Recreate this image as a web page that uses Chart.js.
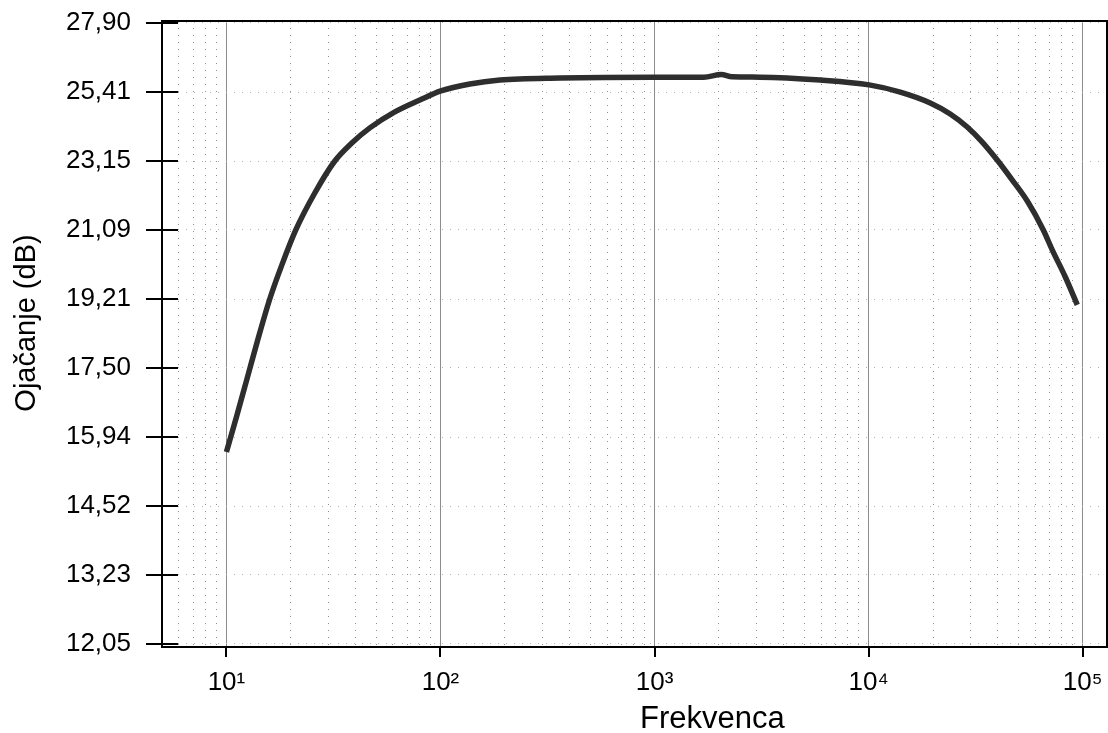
<!DOCTYPE html>
<html>
<head>
<meta charset="utf-8">
<script src="https://cdn.jsdelivr.net/npm/chart.js@4/dist/chart.umd.min.js"></script>
<style>
  html, body { margin: 0; padding: 0; background: #fff; }
  #wrap { width: 1108px; height: 733px; }
</style>
</head>
<body>
<div id="wrap"><canvas id="gainChart"></canvas></div>
<script>
// podaci ocitani sa slike
const freq = [10, 11.17, 12.44, 14.01, 15.94, 18.14, 21.09, 25.87, 32.09, 38.53, 46.77, 61.22, 80.12, 100.4, 137.2, 189.6, 361.6, 1000, 1700, 2050, 2300, 3113, 5939, 10065, 14060, 19410, 24070, 28900, 33980, 39900, 46930, 55140, 65520, 72100, 83030, 94400];
const gain = [15.62, 16.40, 17.22, 18.18, 19.21, 20.11, 21.09, 22.17, 23.15, 23.72, 24.21, 24.74, 25.14, 25.45, 25.69, 25.83, 25.90, 25.93, 25.93, 26.02, 25.94, 25.93, 25.83, 25.66, 25.41, 25.04, 24.67, 24.24, 23.75, 23.18, 22.56, 21.93, 21.09, 20.53, 19.79, 19.06];
const yTicks = [12.05, 13.23, 14.52, 15.94, 17.50, 19.21, 21.09, 23.15, 25.41, 27.90];
const xDecades = [10, 100, 1000, 10000, 100000];
const supers = { 1: '\u00B9', 2: '\u00B2', 3: '\u00B3', 4: '\u2074', 5: '\u2075' };
const xTitle = 'Frekvenca';
const yTitle = 'Ojačanje (dB)';

const FONT = "'Liberation Sans', Arial, sans-serif";

function isDecade(v) {
    return xDecades.some(d => Math.abs(d - v) < 1e-6);
}

// sve podjele na log osi (5..9, 10..90, ...)
function xAllTicks() {
    const t = [];
    for (let e = 0; e <= 5; e++) {
        for (let m = 1; m <= 9; m++) {
            const v = m * Math.pow(10, e);
            if (v >= 5 && v <= 130000) t.push(v);
        }
    }
    return t;
}

// okvir, crtice i naslovi osa
const frameAndTicks = {
    id: 'frameAndTicks',
    afterDraw(chart) {
        const { ctx, chartArea: a, scales } = chart;
        ctx.save();
        ctx.strokeStyle = '#000';
        ctx.lineWidth = 2;
        ctx.strokeRect(a.left, a.top, a.right - a.left, a.bottom - a.top);

        ctx.beginPath();
        yTicks.forEach(v => {
            const y = Math.round(scales.y.getPixelForValue(v));
            ctx.moveTo(a.left - 16, y);
            ctx.lineTo(a.left + 16, y);
        });
        xDecades.forEach(v => {
            const x = Math.round(scales.x.getPixelForValue(v));
            ctx.moveTo(x, a.bottom);
            ctx.lineTo(x, a.bottom + 10);
        });
        ctx.stroke();

        // naslovi
        ctx.fillStyle = '#000';
        ctx.font = '31px ' + FONT;
        ctx.textAlign = 'left';
        ctx.textBaseline = 'alphabetic';
        ctx.fillText(xTitle, 640, 728);

        ctx.translate(27, 323);
        ctx.rotate(-Math.PI / 2);
        ctx.font = '29px ' + FONT;
        ctx.textAlign = 'center';
        ctx.textBaseline = 'middle';
        ctx.fillText(yTitle, 0, 0);
        ctx.restore();
    }
};

const ctx = document.getElementById('gainChart').getContext('2d');

const gainChart = new Chart(ctx, {
    type: 'line',
    data: {
        datasets: [{
            data: freq.map((f, i) => ({ x: f, y: gain[i] })),
            borderColor: '#2e2e2e',
            borderWidth: 5.5,
            pointRadius: 0,
            cubicInterpolationMode: 'monotone',
            fill: false
        }]
    },
    options: {
        responsive: true,
        maintainAspectRatio: false,
        animation: false,
        layout: { padding: { top: 21, right: 1, left: 0, bottom: 0 } },
        plugins: {
            legend: { display: false },
            tooltip: { enabled: false }
        },
        scales: {
            x: {
                type: 'logarithmic',
                min: 5,
                max: 130000,
                afterBuildTicks: (scale) => {
                    scale.ticks = xAllTicks().map(v => ({ value: v }));
                },
                afterFit: (scale) => {
                    scale.height = 86;
                    scale.paddingLeft = 0;
                    scale.paddingRight = 0;
                },
                ticks: {
                    autoSkip: false,
                    maxRotation: 0,
                    padding: 20,
                    color: '#000',
                    font: { family: FONT, size: 26 },
                    callback: (v) => isDecade(v) ? '10' + supers[Math.round(Math.log10(v))] : ''
                },
                grid: {
                    drawTicks: false,
                    color: (c) => isDecade(c.tick.value) ? '#8c8c8c' : '#8f8f8f',
                    lineWidth: 1
                },
                border: {
                    display: false,
                    dash: (c) => (c.tick && isDecade(c.tick.value)) ? [] : [1, 6]
                }
            },
            y: {
                type: 'logarithmic',
                min: 12.0,
                max: 27.975,
                afterBuildTicks: (scale) => {
                    scale.ticks = yTicks.map(v => ({ value: v }));
                },
                afterFit: (scale) => {
                    scale.width = 162;
                    scale.paddingTop = 0;
                    scale.paddingBottom = 0;
                },
                ticks: {
                    autoSkip: false,
                    padding: 31,
                    color: '#000',
                    font: { family: FONT, size: 26 },
                    callback: (v) => Number(v).toFixed(2).replace('.', ',')
                },
                grid: {
                    drawTicks: false,
                    color: '#b5b5b5',
                    lineWidth: 1
                },
                border: {
                    display: false,
                    dash: [1, 7]
                }
            }
        }
    },
    plugins: [frameAndTicks]
});
</script>
</body>
</html>
